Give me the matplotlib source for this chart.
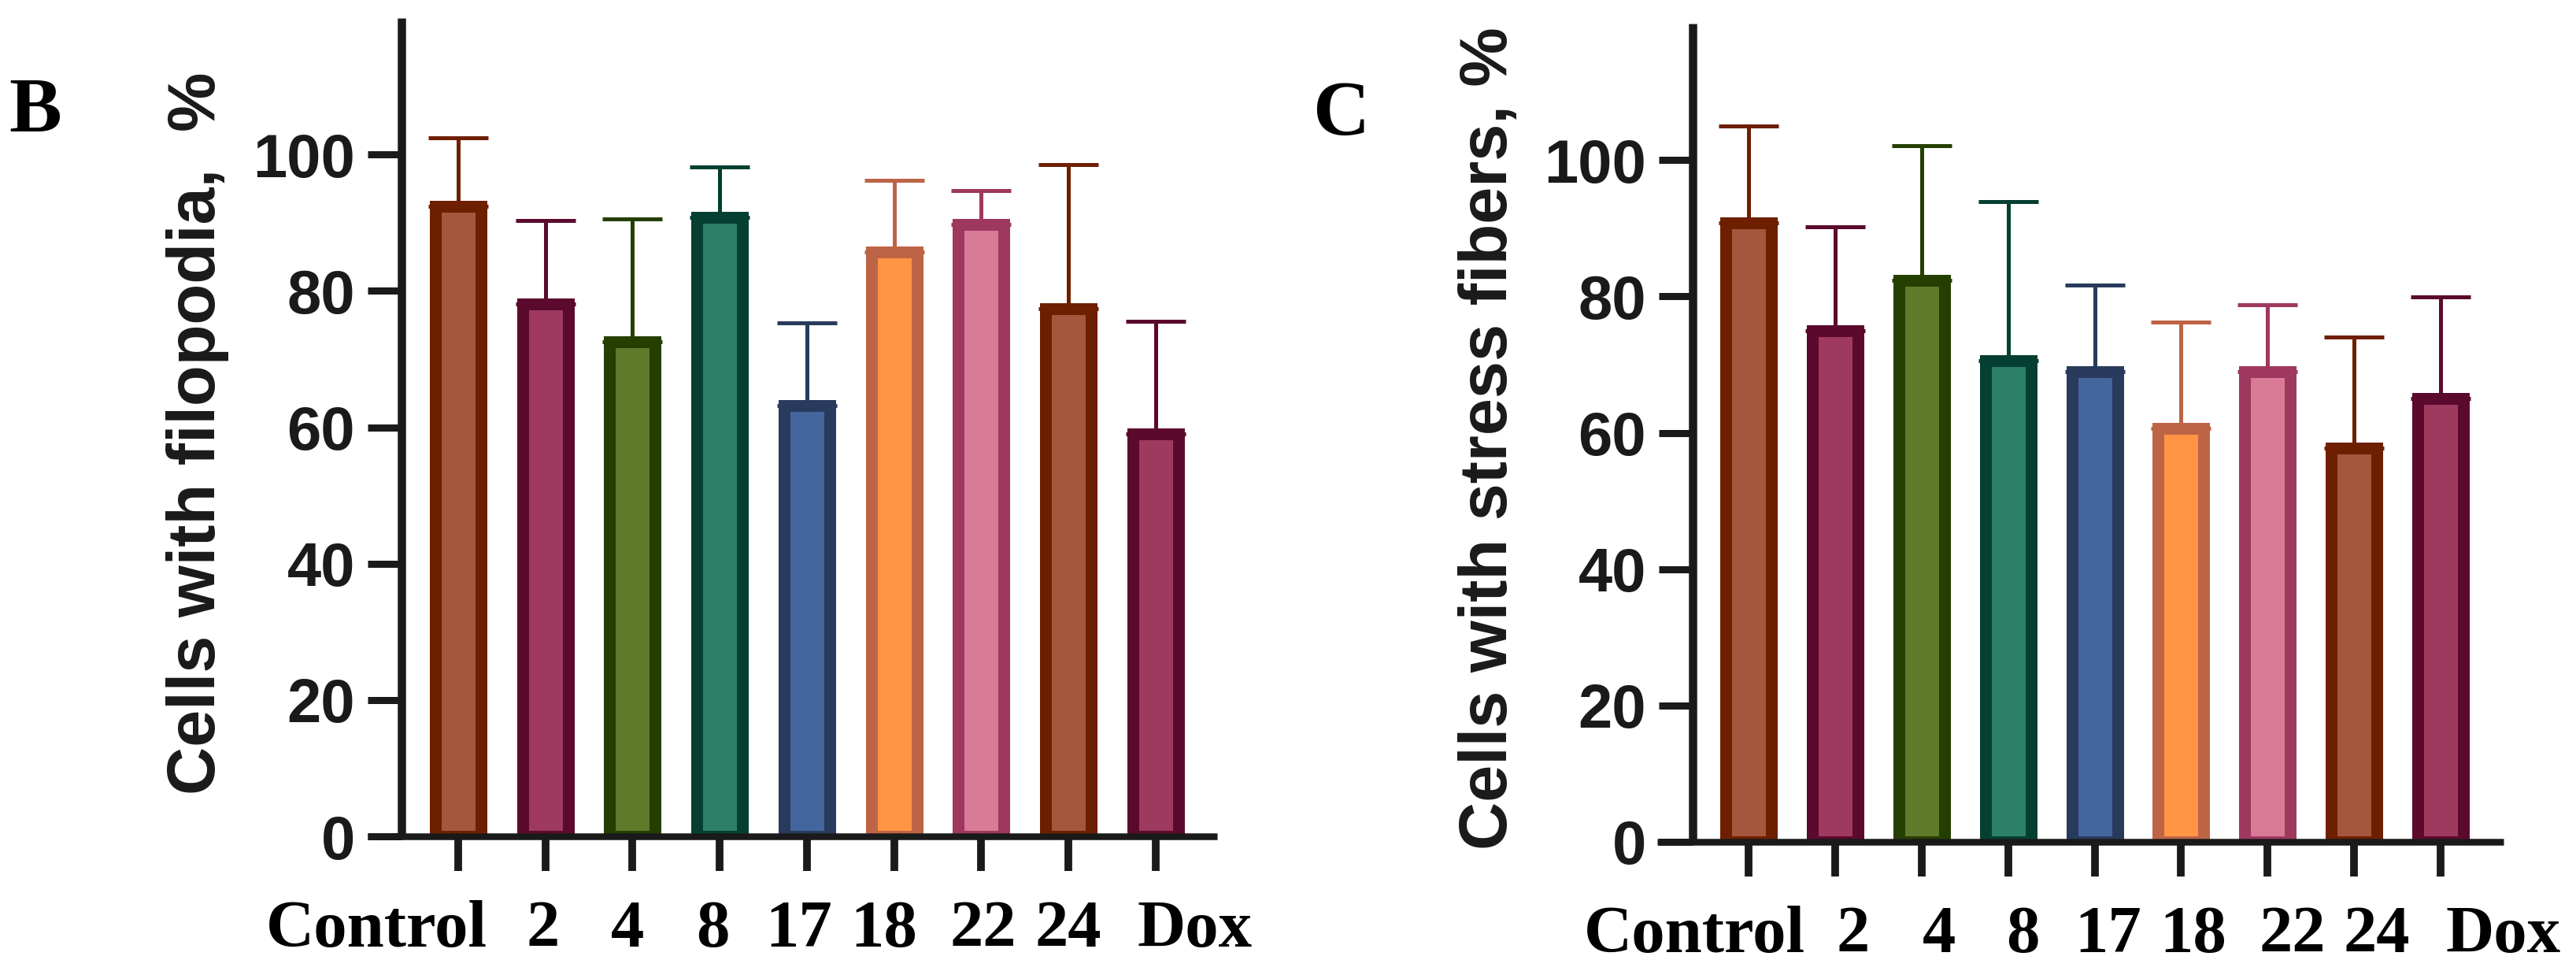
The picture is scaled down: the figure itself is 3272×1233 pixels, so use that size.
import matplotlib
matplotlib.use('Agg')
import matplotlib.pyplot as plt
from matplotlib.transforms import ScaledTranslation, blended_transform_factory

# ---------------- data ----------------
groups = ['Control', '2', '4', '8', '17', '18', '22', '24', 'Dox']
filopodia_mean = [92.4, 78.1, 72.5, 90.8, 63.2, 85.7, 89.7, 77.4, 59.0]
filopodia_err = [10.1, 12.2, 18.1, 7.4, 12.1, 10.5, 5.0, 21.1, 16.5]
stress_mean = [90.8, 74.9, 82.4, 70.6, 68.9, 60.6, 68.9, 57.8, 65.0]
stress_err = [14.2, 15.3, 19.7, 23.3, 12.7, 15.6, 9.9, 16.2, 14.9]
face_colors = ['#A5573D', '#9E3A5E', '#5F7A2B', '#2C8067', '#43679D',
               '#FF9445', '#D97A97', '#A5573D', '#9E3A5E']
edge_colors = ['#6E1F00', '#5B0A2E', '#253F00', '#053F32', '#283B5C',
               '#BE6446', '#9E385E', '#6E1F00', '#5B0A2E']
yticks = [0, 20, 40, 60, 80, 100]
ylabel_b = 'Cells with filopodia,  %'
ylabel_c = 'Cells with stress fibers, %'

# ---------------- layout ----------------
W, H, DPI = 3273, 1233, 100
PT = 72.0 / DPI  # points per pixel
AXC = '#1a1a1a'

fig = plt.figure(figsize=(W / DPI, H / DPI), dpi=DPI)
fig.patch.set_facecolor('white')


def px_rect(l, r, b, t):
    return [l / W, (H - b) / H, (r - l) / W, (b - t) / H]


panels = [
    dict(rect=(467, 1546, 1062, 23), tick0=582, step=110.75, spine=510,
         mean=filopodia_mean, err=filopodia_err, ylabel=ylabel_b,
         letter='B', letter_xy=(45, 142), ylabel_xy=(251, 550),
         label_dx=[-104, -3, -6.5, -9, -10, -13, 2.5, -0.3, 50]),
    dict(rect=(2105, 3180, 1069, 30), tick0=2221, step=109.9, spine=2150,
         mean=stress_mean, err=stress_err, ylabel=ylabel_c,
         letter='C', letter_xy=(1703, 147), ylabel_xy=(1892, 557),
         label_dx=[-69, 23, 22, 19, 17, 15.5, 31.6, 28.7, 79]),
]

for p in panels:
    l, r, b, t = p['rect']
    ax = fig.add_axes(px_rect(l, r, b, t))
    step = p['step']
    xs = list(range(len(groups)))
    edge_px = 15
    ax.bar(xs, p['mean'], width=(73 - edge_px) / step, color=face_colors,
           edgecolor=edge_colors, linewidth=edge_px * PT, zorder=3)
    for i in xs:
        ax.errorbar(i, p['mean'][i], yerr=[[0], [p['err'][i]]], fmt='none',
                    ecolor=edge_colors[i], elinewidth=5 * PT,
                    capsize=38 * PT, capthick=5 * PT, zorder=2)

    ax.set_xlim((l - p['tick0']) / step, (r - p['tick0']) / step)
    ax.set_ylim(0, 120)
    ax.set_yticks(yticks)
    ax.set_xticks(xs)
    ax.set_xticklabels([])

    for s in ['top', 'right']:
        ax.spines[s].set_visible(False)
    ax.spines['left'].set_position(('data', (p['spine'] - p['tick0']) / step))
    ax.spines['left'].set_linewidth(10.5 * PT)
    ax.spines['bottom'].set_linewidth(8.5 * PT)
    for s in ['left', 'bottom']:
        ax.spines[s].set_color(AXC)
        ax.spines[s].set_capstyle('butt')
        ax.spines[s].set_zorder(4)

    ax.tick_params(axis='y', direction='out', length=43 * PT, width=9 * PT,
                   pad=16 * PT, labelsize=56, colors=AXC)
    ax.tick_params(axis='x', direction='out', length=44 * PT, width=9.8 * PT,
                   colors=AXC)
    for lab in ax.get_yticklabels():
        lab.set_fontfamily('Liberation Sans')
        lab.set_fontweight('bold')

    ax.set_ylabel(p['ylabel'], fontsize=61, fontweight='bold',
                  fontfamily='Liberation Sans', color=AXC)
    ax.yaxis.label.set_va('center')
    ax.yaxis.set_label_coords(p['ylabel_xy'][0] / W,
                              (H - p['ylabel_xy'][1]) / H,
                              transform=fig.transFigure)

    base = blended_transform_factory(ax.transData, ax.transAxes)
    for i, g in enumerate(groups):
        tr = base + ScaledTranslation(p['label_dx'][i] / DPI, -140 / DPI,
                                      fig.dpi_scale_trans)
        ax.text(i, 0, g, transform=tr, ha='center', va='baseline',
                fontsize=61, fontweight='bold', fontfamily='Liberation Serif',
                color='black', clip_on=False)

    fig.text(p['letter_xy'][0] / W, (H - p['letter_xy'][1]) / H, p['letter'],
             ha='center', va='center', fontsize=72, fontweight='bold',
             fontfamily='Liberation Serif', color='black')

fig.savefig('out.png', dpi=DPI)
